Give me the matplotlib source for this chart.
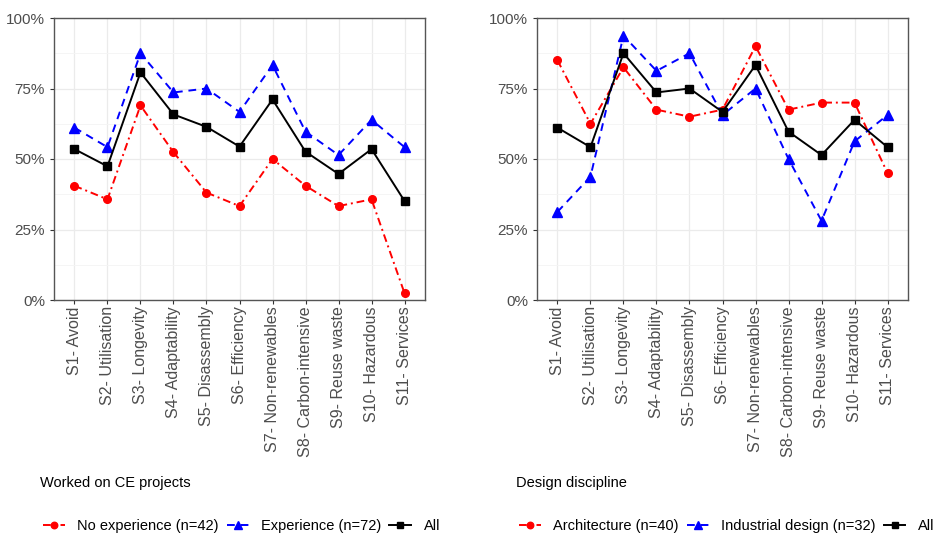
import matplotlib.pyplot as plt
from matplotlib.ticker import PercentFormatter, MultipleLocator

plt.rcParams['font.family'] = ['Liberation Sans', 'DejaVu Sans']

strategies = ['S1- Avoid', 'S2- Utilisation', 'S3- Longevity', 'S4- Adaptability',
              'S5- Disassembly', 'S6- Efficiency', 'S7- Non-renewables',
              'S8- Carbon-intensive', 'S9- Reuse waste', 'S10- Hazardous',
              'S11- Services']

# left panel: worked on CE projects (%)
no_experience = [40.5, 35.7, 69.0, 52.4, 38.1, 33.3, 50.0, 40.5, 33.3, 35.7, 2.4]
experience = [61.1, 54.2, 87.5, 73.6, 75.0, 66.7, 83.3, 59.7, 51.4, 63.9, 54.2]
all_left = [53.5, 47.4, 80.7, 65.8, 61.4, 54.4, 71.1, 52.6, 44.7, 53.5, 35.1]

# right panel: design discipline (%)
architecture = [85.0, 62.5, 82.5, 67.5, 65.0, 67.5, 90.0, 67.5, 70.0, 70.0, 45.0]
industrial = [31.25, 43.75, 93.75, 81.25, 87.5, 65.6, 75.0, 50.0, 28.1, 56.25, 65.6]
all_right = [61.1, 54.2, 87.5, 73.6, 75.0, 66.7, 83.3, 59.7, 51.4, 63.9, 54.2]

panels = [
    ('Worked on CE projects',
     [('No experience (n=42)', no_experience), ('Experience (n=72)', experience), ('All', all_left)]),
    ('Design discipline',
     [('Architecture (n=40)', architecture), ('Industrial design (n=32)', industrial), ('All', all_right)]),
]

styles = [
    dict(color='#ff0000', linestyle=(0, (4, 2, 1, 2)), marker='o', markersize=5.5),
    dict(color='#0000ff', linestyle=(0, (4, 3)), marker='^', markersize=6.5),
    dict(color='black', linestyle='-', marker='s', markersize=5.5),
]

fig = plt.figure(figsize=(9.35, 5.34), dpi=100)
fig.set_facecolor('white')

lefts = [54 / 935, 537 / 935]
x = list(range(len(strategies)))

for (title, series), left, leg_x in zip(panels, lefts, [40 / 935, 516 / 935]):
    ax = fig.add_axes([left, 234 / 534, 371 / 935, 282 / 534])
    for (label, vals), st in zip(series, styles):
        ax.plot(x, vals, label=label, linewidth=1.4, **st)
    ax.set_xlim(-0.62, 10.62)
    ax.set_ylim(0, 100)
    ax.set_xticks(x)
    ax.set_xticklabels(strategies, rotation=90)
    ax.yaxis.set_major_locator(MultipleLocator(25))
    ax.yaxis.set_minor_locator(MultipleLocator(12.5))
    ax.yaxis.set_major_formatter(PercentFormatter(decimals=0))
    ax.grid(True, which='major', color='#ebebeb', linewidth=0.9)
    ax.grid(True, which='minor', axis='y', color='#f4f4f4', linewidth=0.6)
    ax.set_axisbelow(True)
    ax.tick_params(axis='both', which='major', labelsize=11.5, labelcolor='#4d4d4d',
                   color='#333333', length=3, width=0.8)
    ax.tick_params(axis='y', which='major', labelsize=11)
    ax.tick_params(axis='x', which='major', pad=1.5)
    ax.tick_params(axis='y', which='minor', length=0)
    for s in ax.spines.values():
        s.set_color('#555555')
        s.set_linewidth(1.0)

    fig.text(leg_x, 1 - 483 / 534, title, fontsize=10.5, va='center', ha='left')
    fig.legend(*ax.get_legend_handles_labels(), loc='center left',
               bbox_to_anchor=(leg_x + 3 / 935, 1 - 526 / 534), ncol=3, frameon=False,
               fontsize=10.5, handlelength=1.5, handletextpad=0.85, columnspacing=0.55,
               borderaxespad=0, borderpad=0, markerscale=0.85)

fig.savefig('out.png', dpi=100)
